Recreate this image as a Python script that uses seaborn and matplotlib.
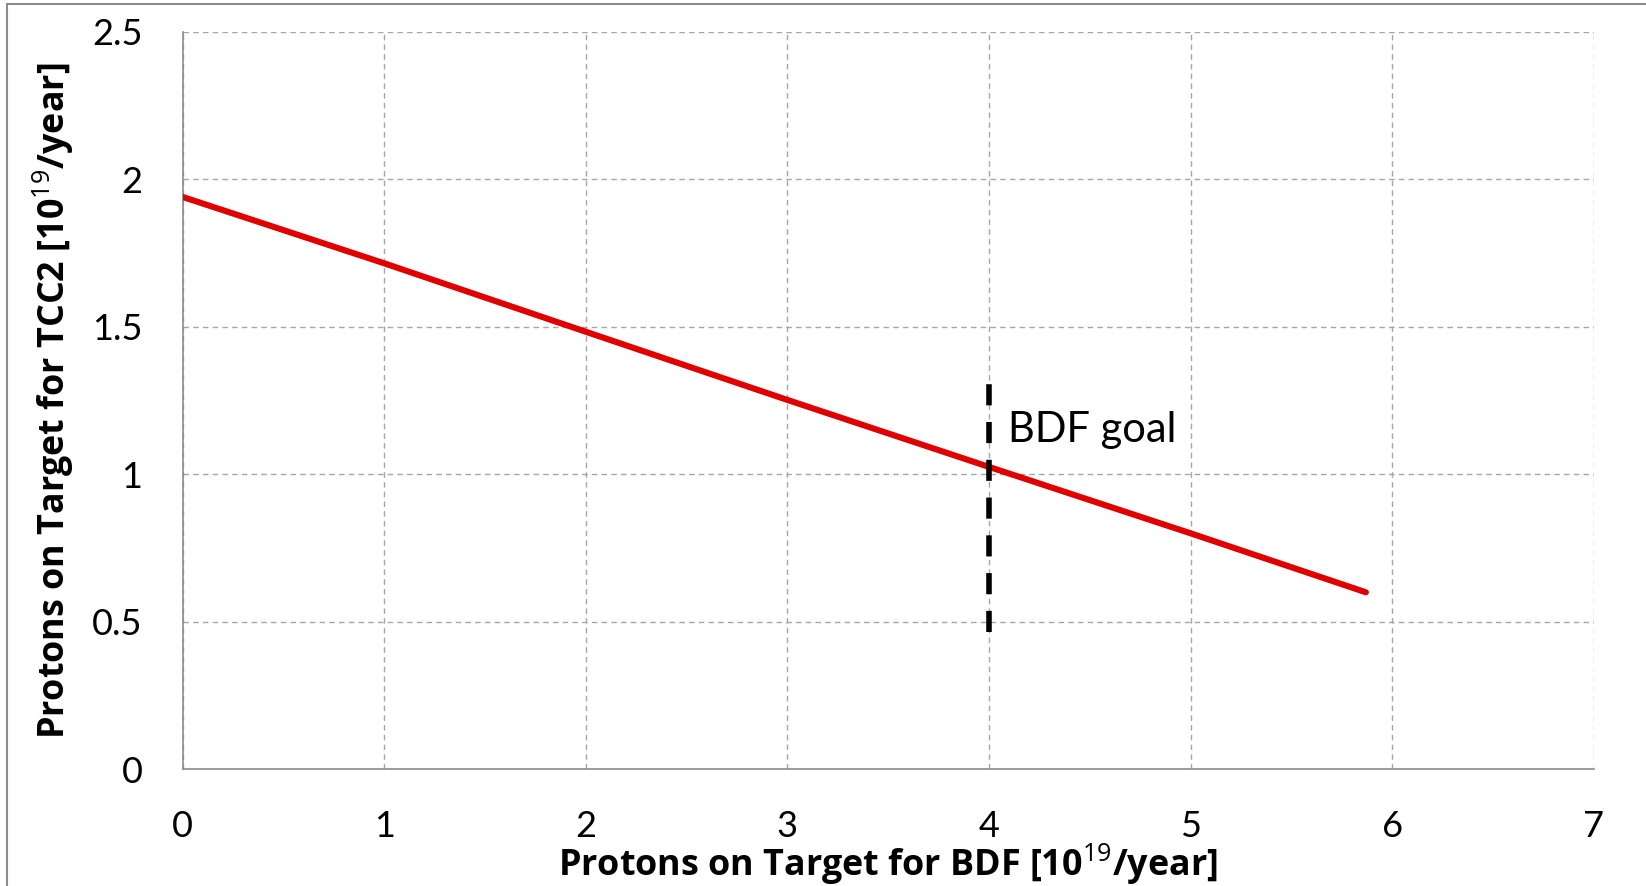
import numpy as np
import pandas as pd
import seaborn as sns
import matplotlib.pyplot as plt
from matplotlib.lines import Line2D

# data
bdf_pot = [0, 1, 2, 3, 4, 5, 5.87]
tcc2_pot = [1.94, 1.715, 1.483, 1.252, 1.025, 0.80, 0.60]
goal_x = [4, 4]
goal_y = [0.465, 1.31]
goal_label = 'BDF goal'

x_ticks = [0, 1, 2, 3, 4, 5, 6, 7]
y_ticks = [0, 0.5, 1, 1.5, 2, 2.5]
y_ticklabels = ['0', '0.5', '1', '1.5', '2', '2.5']

sns.set_style('white')
plt.rcParams['font.family'] = ['Lato', 'DejaVu Sans']
plt.rcParams['text.color'] = 'black'
plt.rcParams['axes.labelcolor'] = 'black'
plt.rcParams['mathtext.fontset'] = 'custom'
plt.rcParams['mathtext.rm'] = 'Open Sans'
plt.rcParams['mathtext.bf'] = 'Open Sans:bold'

fig = plt.figure(figsize=(16.46, 8.86), dpi=100)
ax = fig.add_axes([0.111, 0.1317, 0.8572, 0.8325])

line_df = pd.DataFrame({'bdf': bdf_pot, 'tcc2': tcc2_pot})
goal_df = pd.DataFrame({'x': goal_x, 'y': goal_y})

sns.lineplot(data=line_df, x='bdf', y='tcc2', color='#E00000', lw=4.4,
             solid_capstyle='round', ax=ax, zorder=3)
sns.lineplot(data=goal_df, x='x', y='y', color='black', lw=4.0,
             estimator=None, sort=False, ax=ax, zorder=4)
ax.lines[-1].set_dashes((3.8, 3.0))

ax.text(4.094, 1.11, goal_label, fontsize=30, ha='left', va='baseline', color='black')

ax.set_xlim(0, 7)
ax.set_ylim(0, 2.5)
ax.set_xticks(x_ticks)
ax.set_yticks(y_ticks)
ax.set_yticklabels(y_ticklabels)
ax.grid(True, color='#A6A6A6', lw=1.0, ls=(0, (4, 3)))

sns.despine(ax=ax)
for s in ['left', 'bottom']:
    ax.spines[s].set_color('#8C8C8C')
    ax.spines[s].set_linewidth(1.2)
ax.tick_params(axis='both', direction='out', color='#8C8C8C', width=1.2,
               length=10, labelsize=26, labelcolor='black')
ax.tick_params(axis='x', pad=19)
ax.tick_params(axis='y', pad=19)

label_font = dict(family='Open Sans', fontsize=25.8, fontweight='bold',
                  va='baseline', color='black')
ax.set_xlabel(r'Protons on Target for BDF [10$^{19}$/year]', **label_font)
ax.xaxis.set_label_coords(0.5, -0.1447)
ax.set_ylabel(r'Protons on Target for TCC2 [10$^{19}$/year]', **label_font)
ax.yaxis.set_label_coords(-0.0834, 0.5)

# frame around the picture (top and left edges only visible)
fig.add_artist(Line2D([7 / 1646, 7 / 1646], [0, 1 - 4 / 886], color='#8C8C8C', lw=1.5))
fig.add_artist(Line2D([7 / 1646, 1], [1 - 4 / 886, 1 - 4 / 886], color='#8C8C8C', lw=1.5))

fig.savefig('out.png', dpi=100)
